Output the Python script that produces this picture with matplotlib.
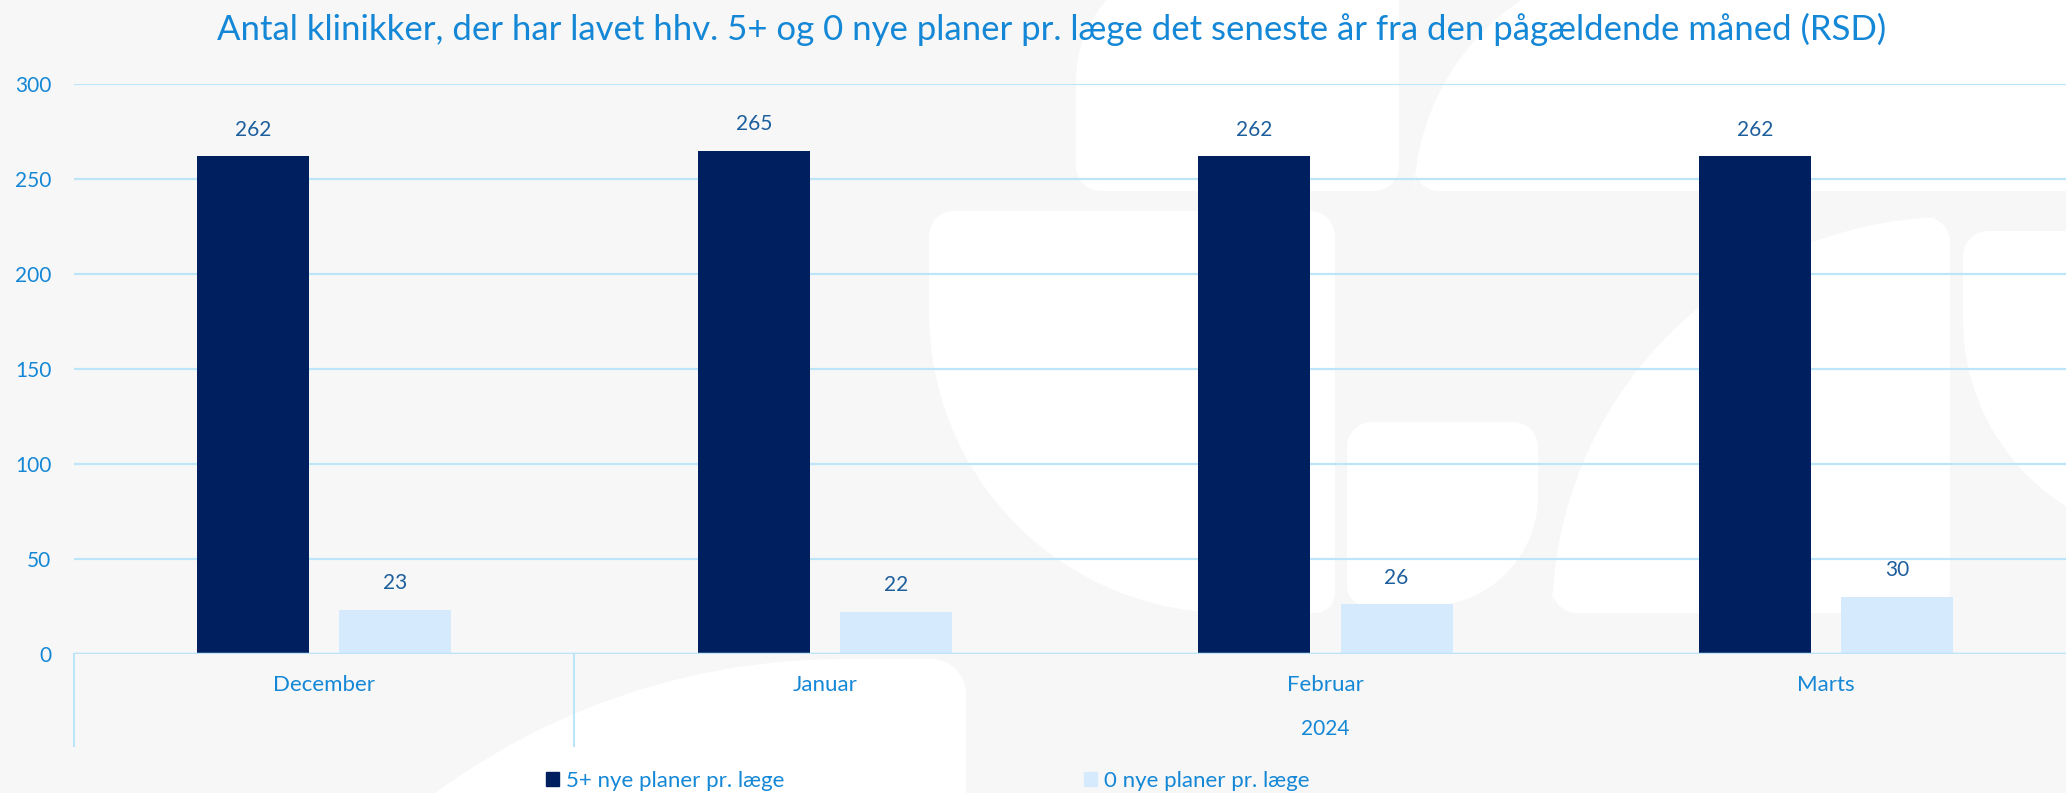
import numpy as np
import matplotlib
matplotlib.use("Agg")
import matplotlib.pyplot as plt
import matplotlib.transforms as mtransforms
from matplotlib.patches import Polygon, Patch

plt.rcParams["font.family"] = ["Lato", "DejaVu Sans"]

months = ["December", "Januar", "Februar", "Marts"]
year_label = "2024"
series_names = ["5+ nye planer pr. læge", "0 nye planer pr. læge"]
five_plus = [262, 265, 262, 262]
zero_new = [23, 22, 26, 30]
y_ticks = [0, 50, 100, 150, 200, 250, 300]
title = "Antal klinikker, der har lavet hhv. 5+ og 0 nye planer pr. læge det seneste år fra den pågældende måned (RSD)"

DARK, LIGHT = "#001f5e", "#d5eafc"
TXT, LBL = "#1487d6", "#1d5e9c"
GRID, BG = "#bde5f9", "#f7f7f7"


def rrect(x0, y0, x1, y1, r, n=32):
    # rounded rect in pixel coords (y down), r = (tl, tr, br, bl)
    tl, tr, br, bl = r
    pts = []
    for (cx, cy, rad, a0) in [(x0 + tl, y0 + tl, tl, 180), (x1 - tr, y0 + tr, tr, 270),
                              (x1 - br, y1 - br, br, 0), (x0 + bl, y1 - bl, bl, 90)]:
        a = np.radians(np.linspace(a0, a0 + 90, n))
        pts += list(zip(cx + rad * np.cos(a), cy + rad * np.sin(a)))
    return Polygon(pts, closed=True, fc="white", ec="none")


fig = plt.figure(figsize=(20.66, 7.93), dpi=100, facecolor=BG)

# faint white logo shapes in the background
bg = fig.add_axes([0, 0, 1, 1], zorder=0)
bg.set_xlim(0, 2066); bg.set_ylim(793, 0); bg.axis("off")
for shape in [
    (1076, -40, 1399, 191, (120, 20, 25, 25)),
    (1414, -40, 2120, 191, (240, 20, 20, 25)),
    (929, 211, 1335, 613, (25, 25, 20, 300)),
    (1347, 422, 1538, 606, (25, 25, 110, 20)),
    (1552, 217, 1950, 613, (400, 25, 25, 25)),
    (1963, 231, 2140, 540, (25, 25, 25, 220)),
    (155, 659, 966, 2100, (688, 35, 20, 20)),
]:
    bg.add_patch(rrect(*shape))

ax = fig.add_axes([0.0357, 0.1759, 0.9694, 0.7178], zorder=1)
ax.set_facecolor("none")
x = np.arange(len(months))
w, off = 0.2237, 0.142
b1 = ax.bar(x - off, five_plus, w, color=DARK, label=series_names[0], zorder=3)
b2 = ax.bar(x + off, zero_new, w, color=LIGHT, label=series_names[1], zorder=3)
for bars in (b1, b2):
    for b in bars:
        ax.annotate(f"{b.get_height():.0f}", (b.get_x() + b.get_width() / 2, b.get_height()),
                    xytext=(0, 19), textcoords="offset points", ha="center", va="center",
                    fontsize=15, color=LBL)

ax.set_xlim(-0.5, 3.5)
ax.set_ylim(0, 300)
ax.set_yticks(y_ticks)
ax.tick_params(axis="y", length=0, pad=16, labelsize=15, labelcolor=TXT)
ax.set_xticks([])
ax.grid(axis="y", color=GRID, lw=1.6, zorder=0)
for s in ax.spines.values():
    s.set_visible(False)
ax.axhline(0, color=GRID, lw=2.5, zorder=4)

tr = mtransforms.blended_transform_factory(ax.transData, ax.transAxes)
for xi, m in zip(x, months):
    ax.text(xi, -0.055, m, transform=tr, ha="center", va="center", fontsize=16, color=TXT)
ax.text(2, -0.133, year_label, transform=tr, ha="center", va="center", fontsize=15, color=TXT)
for xs in (-0.5, 0.5):
    ax.plot([xs, xs], [0, -0.1625], transform=tr, color=GRID, lw=1.5, clip_on=False)

fig.text(0.509, 0.963, title, ha="center", va="center", fontsize=25, color=TXT)

handles = [Patch(color=DARK), Patch(color=LIGHT)]
fig.legend(handles, series_names, loc="center", bbox_to_anchor=(0.449, 0.015), ncol=2,
           frameon=False, fontsize=16, labelcolor=TXT, handlelength=0.6, handleheight=0.6,
           handletextpad=0.3, columnspacing=13.5)

fig.savefig("out.png", dpi=100, facecolor=BG)
